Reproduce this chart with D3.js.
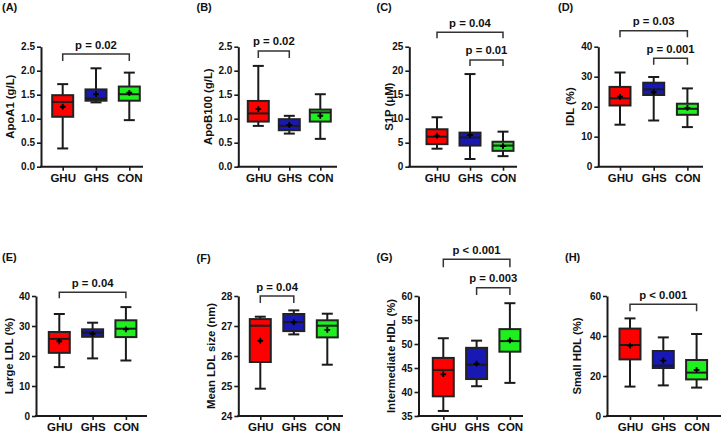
<!DOCTYPE html>
<html><head><meta charset="utf-8">
<script src="https://cdn.jsdelivr.net/npm/d3@7"></script>
<style>
html,body{margin:0;padding:0;background:#fff;}
svg{display:block;font-family:"Liberation Sans",Arial,sans-serif;font-weight:bold;}
</style></head>
<body><svg id="chart" width="721" height="435"></svg>
<script>
// ---- data ----
const categories = ["GHU", "GHS", "CON"];
const colors = ["#ff0000", "#1818b4", "#1ef01e"];
// each group: [min, q1, median, q3, max, mean]
const apoA1 = [[0.38,1.04,1.35,1.49,1.72,1.25],[1.34,1.375,1.42,1.61,2.05,1.51],[0.97,1.375,1.51,1.67,1.96,1.54]];
const apoB100 = [[0.85,0.94,1.11,1.37,2.10,1.20],[0.69,0.76,0.85,0.99,1.06,0.87],[0.58,0.94,1.13,1.19,1.51,1.06]];
const s1p = [[3.75,4.7,6.25,7.8,10.3,6.46],[1.6,4.4,6.1,7.1,19.3,6.6],[2.2,3.3,4.4,5.2,7.3,4.3]];
const idl = [[14.0,20.4,22.8,26.6,31.4,23.3],[15.4,23.9,25.8,28.0,29.9,24.8],[13.2,17.3,19.3,21.0,26.1,19.6]];
const largeLDL = [[16.3,21.05,25.7,28.0,34.0,24.9],[19.2,26.4,27.8,28.9,31.1,27.4],[18.5,26.3,29.1,31.9,36.3,28.9]];
const meanLDLSize = [[24.91,25.8,27.01,27.23,27.31,26.51],[26.72,26.83,27.13,27.4,27.52,27.12],[25.71,26.62,27.01,27.19,27.41,26.87]];
const intHDL = [[36.05,39.1,44.6,47.1,51.2,43.7],[41.2,42.7,45.7,49.2,50.7,45.9],[41.9,48.4,50.6,53.1,58.5,50.75]];
const smallHDL = [[14.7,28.3,35.5,43.7,48.8,35.2],[15.3,24.0,25.2,32.5,39.3,27.7],[14.2,18.3,21.7,28.0,41.0,23.0]];

const ticksA = ["0.0","0.5","1.0","1.5","2.0","2.5"];
const ticksB = ["0.0","0.5","1.0","1.5","2.0","2.5"];
const ticksC = ["0","5","10","15","20","25"];
const ticksD = ["0","10","20","30","40"];
const ticksE = ["0","10","20","30","40"];
const ticksF = ["24","25","26","27","28"];
const ticksG = ["35","40","45","50","55","60"];
const ticksH = ["0","20","40","60"];

const titles = ["ApoA1 (g/L)","ApoB100 (g/L)","S1P (\u03bcM)","IDL (%)","Large LDL (%)","Mean LDL size (nm)","Intermediate HDL (%)","Small HDL (%)"];
const panelLabels = ["(A)","(B)","(C)","(D)","(E)","(F)","(G)","(H)"];
// comparisons: [fromIndex, toIndex, label]
const compA = [[0,2,"p = 0.02"]];
const compB = [[0,1,"p = 0.02"]];
const compC = [[0,2,"p = 0.04"],[1,2,"p = 0.01"]];
const compD = [[0,2,"p = 0.03"],[1,2,"p = 0.001"]];
const compE = [[0,2,"p = 0.04"]];
const compF = [[0,1,"p = 0.04"]];
const compG = [[0,2,"p < 0.001"],[1,2,"p = 0.003"]];
const compH = [[0,2,"p < 0.001"]];

// ---- layout ----
const panels = [
 {d:apoA1, t:ticksA, c:compA, lx:2,  ly:10.5, x0:41,  x1:143, off:21.7, step:33.3, top:46.7, bot:166.7, tx:9.5, br:[{y:54,dr:7,ty:48.5}]},
 {d:apoB100, t:ticksB, c:compB, lx:196.5, ly:10.5, x0:238.3, x1:337, off:20, step:31, top:46.7, bot:166.7, tx:208, br:[{y:51,dr:7,ty:45}]},
 {d:s1p, t:ticksC, c:compC, lx:376.5, ly:10.5, x0:409.3, x1:517, off:27.7, step:33, top:46.7, bot:166.7, tx:388.5, br:[{y:32.3,dr:6,ty:26.7},{y:60,dr:6,ty:54.3}]},
 {d:idl, t:ticksD, c:compD, lx:558, ly:10.5, x0:598.3, x1:703, off:21.7, step:33.7, top:46.7, bot:166.7, tx:570, br:[{y:30.7,dr:6.5,ty:25},{y:58.3,dr:6.5,ty:52.7}]},
 {d:largeLDL, t:ticksE, c:compE, lx:2, ly:261, x0:36, x1:147, off:23.3, step:33.3, top:296, bot:416, tx:9, br:[{y:292.3,dr:6,ty:286.7}]},
 {d:meanLDLSize, t:ticksF, c:compF, lx:196.5, ly:261.5, x0:238.3, x1:343, off:22, step:33.5, top:296, bot:416, tx:211, br:[{y:296,dr:7,ty:291}]},
 {d:intHDL, t:ticksG, c:compG, lx:376.5, ly:261, x0:418.5, x1:523, off:24.8, step:33.3, top:296, bot:416, tx:391, br:[{y:259.3,dr:8,ty:254.3},{y:287.7,dr:7.3,ty:282.3}]},
 {d:smallHDL, t:ticksH, c:compH, lx:565, ly:261, x0:607, x1:721, off:23, step:33.3, top:296, bot:416, tx:576.5, br:[{y:304.3,dr:7,ty:299.3}]}
];

const svg = d3.select("#chart");
const ink = "#1a1a1a";

panels.forEach((p, i) => {
  const tv = p.t.map(Number);
  const y = d3.scaleLinear().domain([tv[0], tv[tv.length-1]]).range([p.bot, p.top]);
  const x = d3.scalePoint().domain(categories).range([p.x0 + p.off, p.x0 + p.off + 2*p.step]);
  const g = svg.append("g");

  g.append("text").attr("x", p.lx).attr("y", p.ly).attr("font-size", 11).attr("fill", "#111").text(panelLabels[i]);

  const ya = g.append("g").attr("transform", `translate(${p.x0},0)`)
    .call(d3.axisLeft(y).tickValues(tv).tickFormat((d, k) => p.t[k]).tickSize(4).tickPadding(2).tickSizeOuter(0));
  ya.select(".domain").attr("stroke", ink).attr("stroke-width", 2);
  ya.selectAll(".tick line").attr("stroke", ink).attr("stroke-width", 1.6);
  ya.selectAll(".tick text").attr("font-size", 10).attr("font-family", "Liberation Sans, Arial, sans-serif").attr("font-weight", "bold").attr("fill", "#111");

  const xa = g.append("g").attr("transform", `translate(0,${p.bot})`)
    .call(d3.axisBottom(x).tickSize(4).tickPadding(3));
  xa.select(".domain").remove();
  xa.selectAll(".tick line").attr("stroke", ink).attr("stroke-width", 1.6);
  xa.selectAll(".tick text").attr("font-size", 11.5).attr("font-family", "Liberation Sans, Arial, sans-serif").attr("font-weight", "bold").attr("fill", "#111");
  g.append("line").attr("x1", p.x0 - 1).attr("x2", p.x1).attr("y1", p.bot).attr("y2", p.bot)
    .attr("stroke", ink).attr("stroke-width", 2);

  g.append("text").attr("transform", `translate(${p.tx},${(p.top + p.bot)/2}) rotate(-90)`)
    .attr("text-anchor", "middle").attr("dy", "0.36em").attr("font-size", 11.3).attr("fill", "#111").text(titles[i]);

  const bw = 21, cw = 11;
  p.d.forEach((s, k) => {
    const cx = x(categories[k]);
    const [mn, q1, md, q3, mx, mean] = s;
    const bg = g.append("g");
    bg.append("line").attr("x1", cx).attr("x2", cx).attr("y1", y(mx)).attr("y2", y(q3)).attr("stroke", ink).attr("stroke-width", 2);
    bg.append("line").attr("x1", cx).attr("x2", cx).attr("y1", y(q1)).attr("y2", y(mn)).attr("stroke", ink).attr("stroke-width", 2);
    bg.append("line").attr("x1", cx - cw/2).attr("x2", cx + cw/2).attr("y1", y(mx)).attr("y2", y(mx)).attr("stroke", ink).attr("stroke-width", 2);
    bg.append("line").attr("x1", cx - cw/2).attr("x2", cx + cw/2).attr("y1", y(mn)).attr("y2", y(mn)).attr("stroke", ink).attr("stroke-width", 2);
    bg.append("rect").attr("x", cx - bw/2).attr("width", bw).attr("y", y(q3)).attr("height", y(q1) - y(q3))
      .attr("fill", colors[k]).attr("stroke", "#222").attr("stroke-width", 2);
    bg.append("line").attr("x1", cx - bw/2).attr("x2", cx + bw/2).attr("y1", y(md)).attr("y2", y(md)).attr("stroke", ink).attr("stroke-width", 2);
    bg.append("path").attr("d", d3.symbol(d3.symbolCross, 18)()).attr("transform", `translate(${cx},${y(mean)})`).attr("fill", "#000");
  });

  p.c.forEach((c, k) => {
    const b = p.br[k];
    const xa1 = x(categories[c[0]]), xb1 = x(categories[c[1]]);
    g.append("path").attr("d", `M${xa1},${b.y + b.dr}V${b.y}H${xb1}V${b.y + b.dr}`)
      .attr("fill", "none").attr("stroke", "#333").attr("stroke-width", 1.5);
    g.append("text").attr("x", (xa1 + xb1)/2).attr("y", b.ty).attr("text-anchor", "middle")
      .attr("font-size", 11.3).attr("fill", "#111").text(c[2]);
  });
});
</script></body></html>
